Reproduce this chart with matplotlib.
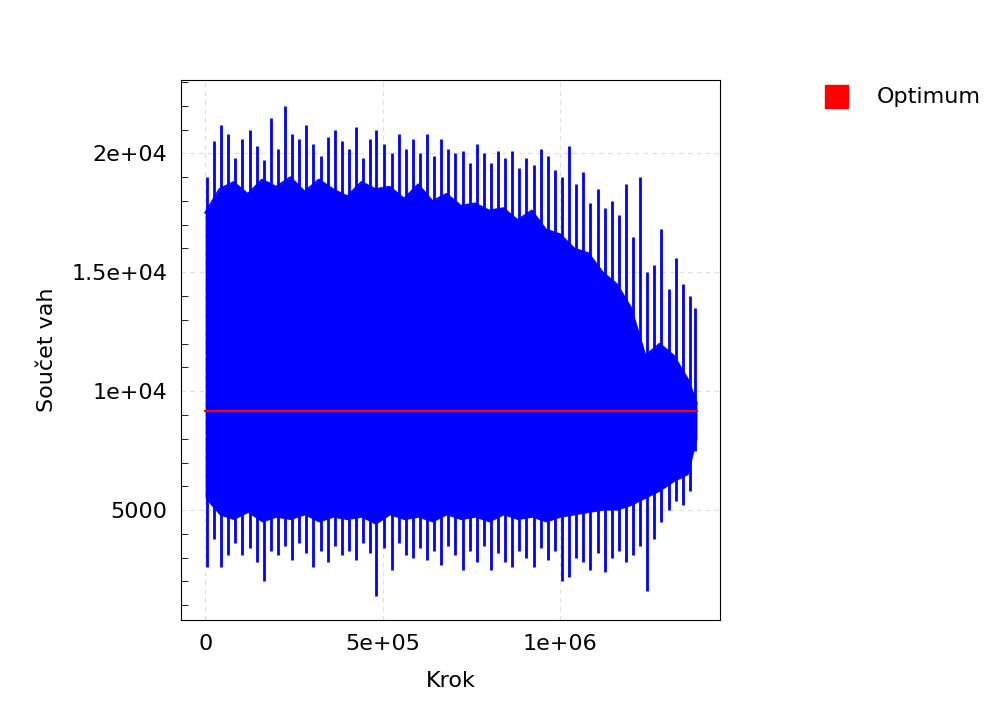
import matplotlib
matplotlib.use("Agg")
import matplotlib.pyplot as plt
from matplotlib.ticker import MultipleLocator, FuncFormatter

# core band of the dense trace
krok = [0, 40000, 80000, 120000, 160000, 200000, 240000, 280000, 320000, 360000,
        400000, 440000, 480000, 520000, 560000, 600000, 640000, 680000, 720000, 760000,
        800000, 840000, 880000, 920000, 960000, 1000000, 1040000, 1080000, 1120000, 1160000,
        1200000, 1240000, 1280000, 1320000, 1360000, 1385000]
jadro_h = [17500, 18500, 18800, 18300, 18900, 18600, 19000, 18400, 18900, 18500,
           18200, 18800, 18500, 18600, 18100, 18700, 18000, 18300, 17800, 17900,
           17600, 17700, 17200, 17600, 16800, 16600, 16000, 15800, 15000, 14500,
           13500, 11500, 12000, 11500, 10500, 9500]
jadro_d = [5500, 4800, 4600, 4900, 4500, 4700, 4600, 4800, 4500, 4700,
           4600, 4700, 4400, 4800, 4600, 4700, 4500, 4800, 4600, 4700,
           4500, 4800, 4600, 4700, 4500, 4700, 4800, 4900, 5000, 5000,
           5200, 5500, 5800, 6200, 6500, 8000]

# individual spikes (x, top, bottom)
spike_x = [5000, 25000, 45000, 65000, 85000, 105000, 125000, 145000, 165000, 185000,
           205000, 225000, 245000, 265000, 285000, 305000, 325000, 345000, 365000, 385000,
           405000, 425000, 445000, 465000, 482000, 505000, 525000, 545000, 565000, 585000,
           605000, 625000, 645000, 665000, 685000, 705000, 725000, 745000, 765000, 785000,
           805000, 825000, 845000, 865000, 885000, 905000, 925000, 945000, 965000, 985000,
           1005000, 1025000, 1045000, 1065000, 1085000, 1105000, 1125000, 1145000, 1165000, 1185000,
           1205000, 1225000, 1245000, 1265000, 1285000, 1305000, 1325000, 1345000, 1365000, 1380000]
spike_hi = [19000, 20500, 21200, 20800, 19800, 20600, 21000, 20300, 19700, 21500,
            20200, 22000, 20800, 20600, 21200, 20400, 19900, 20700, 21000, 20500,
            20200, 21100, 19800, 20600, 21000, 20400, 20000, 20800, 20200, 20600,
            20000, 20800, 19900, 20600, 20200, 20000, 20100, 19600, 20400, 20000,
            19600, 20100, 19800, 20100, 19400, 19800, 19500, 20200, 19900, 19300,
            19000, 20300, 18700, 19200, 17900, 18500, 17700, 18000, 17400, 18700,
            16500, 19000, 15000, 15300, 16800, 14300, 15600, 14500, 14000, 13500]
spike_lo = [2600, 3800, 2600, 3100, 3600, 3100, 3400, 2800, 2000, 3300,
            3100, 3500, 2900, 3600, 3200, 2600, 3300, 2800, 3500, 3100,
            3300, 2900, 3600, 3200, 1400, 3400, 2500, 3600, 3100, 3000,
            3400, 2900, 3300, 2700, 3500, 3100, 2500, 3300, 2800, 3500,
            2500, 3200, 2800, 2600, 3300, 3000, 2600, 3400, 2900, 3300,
            2000, 2200, 3000, 2800, 2500, 3200, 2400, 3000, 3300, 2800,
            3100, 3500, 1600, 3800, 4500, 5000, 5400, 5200, 5800, 7500]
optimum = 9160

fig = plt.figure(figsize=(10, 7.11), dpi=100)
ax = fig.add_axes([0.181, 0.128, 0.539, 0.759])

ax.fill_between(krok, jadro_d, jadro_h, color="blue", lw=0, zorder=2)
ax.vlines(spike_x, spike_lo, spike_hi, color="blue", lw=2, zorder=2)
ax.plot(krok, jadro_h, color="blue", lw=1.2, zorder=2)
ax.plot([krok[0], krok[-1]], [optimum, optimum], color="red", lw=1.5, zorder=3)

ax.set_xlim(-68000, 1450000)
ax.set_ylim(380, 23070)
ax.xaxis.set_major_locator(MultipleLocator(500000))
ax.yaxis.set_major_locator(MultipleLocator(5000))
ax.yaxis.set_minor_locator(MultipleLocator(1000))
ax.xaxis.set_major_formatter(FuncFormatter(lambda v, p: {0: "0", 500000: "5e+05", 1000000: "1e+06"}.get(int(v), "")))
ax.yaxis.set_major_formatter(FuncFormatter(lambda v, p: {5000: "5000", 10000: "1e+04", 15000: "1.5e+04", 20000: "2e+04"}.get(int(v), "")))
ax.tick_params(which="major", length=0, labelsize=16, pad=10)
ax.tick_params(which="minor", direction="in", length=5)
ax.set_axisbelow(True)
ax.grid(True, color="#dddddd", ls=(0, (4, 4)), lw=0.8, zorder=0)
ax.set_xlabel("Krok", fontsize=16, labelpad=12)
ax.set_ylabel("Součet vah", fontsize=16, labelpad=10)

fig.patches.append(plt.Rectangle((0.825, 0.848), 0.023, 0.033, color="red", transform=fig.transFigure))
fig.text(0.877, 0.864, "Optimum", fontsize=16, va="center")

fig.savefig("out.png")
